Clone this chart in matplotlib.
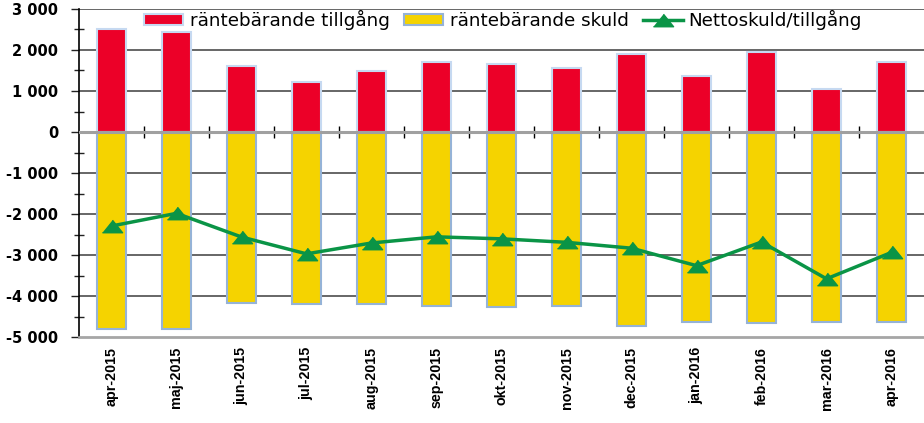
import matplotlib
matplotlib.use("Agg")
import matplotlib.pyplot as plt
import numpy as np

categories = ["apr-2015", "maj-2015", "jun-2015", "jul-2015", "aug-2015", "sep-2015",
              "okt-2015", "nov-2015", "dec-2015", "jan-2016", "feb-2016", "mar-2016", "apr-2016"]
tillgang = [2505, 2430, 1620, 1212, 1488, 1700, 1650, 1550, 1895, 1358, 1951, 1041, 1707]
skuld = [-4800, -4800, -4170, -4200, -4200, -4244, -4268, -4244, -4724, -4626, -4650, -4630, -4630]
netto = [-2293, -1984, -2561, -2972, -2707, -2557, -2606, -2691, -2834, -3260, -2683, -3581, -2937]
yticks = [-5000, -4000, -3000, -2000, -1000, 0, 1000, 2000, 3000]
ytick_labels = ["-5 000", "-4 000", "-3 000", "-2 000", "-1 000", "0", "1 000", "2 000", "3 000"]
series_names = ["räntebärande tillgång", "räntebärande skuld", "Nettoskuld/tillgång"]

fig = plt.figure(figsize=(9.24, 4.23), dpi=100)
ax = fig.add_axes([79/924, 86/423, 1 - 79/924, (337 - 9)/423])

x = np.arange(len(categories))
w = 0.46
b_skuld = ax.bar(x, skuld, width=w, color="#F5D300", edgecolor="#95B3D7", linewidth=1.5,
                 zorder=3)
b_till = ax.bar(x, tillgang, width=w, color="#EC0028", edgecolor="#C6D9F1", linewidth=1.5,
                zorder=3)
tri = [(-1, -0.62), (1, -0.62), (0, 0.62)]
ln, = ax.plot(x, netto, color="#0A9446", linewidth=2.5, marker=tri, markersize=14.5,
              zorder=5)

ax.set_xlim(-0.5, len(categories) - 0.5)
ax.set_ylim(-5000, 3000)
ax.set_yticks(yticks)
ax.set_yticklabels(ytick_labels, fontsize=10.5, fontweight="bold", family="DejaVu Sans")
ax.set_yticks(np.arange(-4500, 3000, 1000), minor=True)
ax.tick_params(axis="y", which="major", direction="out", length=5.5, width=1, pad=9.3, color="#222222")
ax.tick_params(axis="y", which="minor", direction="inout", length=7, width=1, color="#222222")

ax.set_xticks(x)
ax.set_xticklabels(categories, rotation=90, fontsize=10.3, fontweight="bold",
                   family="Liberation Sans")
ax.tick_params(axis="x", which="major", length=0, pad=7)

for v in yticks:
    if v != 0 and v != -5000:
        ax.axhline(v, color="#5A5A5A", linewidth=1.3, zorder=1)
ax.axhline(0, color="#A0A0A0", linewidth=2.2, zorder=4)

# category boundary ticks on the zero line
sec = ax.secondary_xaxis(5/8)
sec.set_xticks(np.arange(0.5, len(categories) - 0.5, 1.0))
sec.set_xticklabels([])
sec.tick_params(direction="inout", length=8, width=1, color="#000000")
sec.spines["bottom"].set_visible(False)
sec.spines["top"].set_visible(False)

for s in ["top", "right"]:
    ax.spines[s].set_visible(False)
ax.spines["left"].set_color("#000000")
ax.spines["left"].set_linewidth(1.2)
ax.spines["bottom"].set_color("#A6A6A6")
ax.spines["bottom"].set_linewidth(2)

leg = fig.legend([b_till, b_skuld, ln], series_names, loc="center",
                 bbox_to_anchor=(503/924, 1 - 20/423), ncol=3, frameon=False,
                 prop={"family": "DejaVu Sans", "size": 13.2}, handlelength=2.15,
                 handleheight=0.5, handletextpad=0.33, columnspacing=0.8, borderpad=0.2)

fig.savefig("out.png", dpi=100)
